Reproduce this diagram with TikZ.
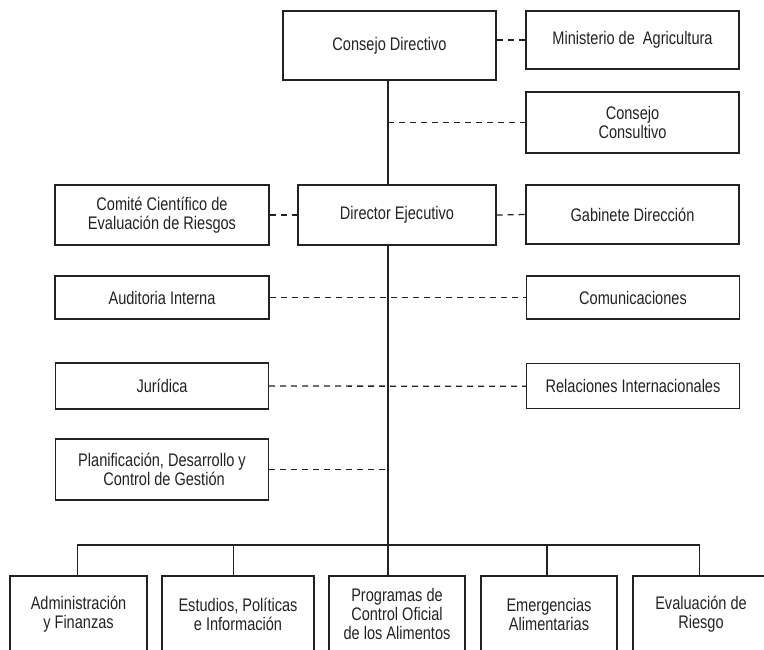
\documentclass[tikz,border=0pt]{standalone}
\usepackage{fontspec}
\setmainfont{Liberation Sans}[FakeStretch=0.8]
\definecolor{ln}{HTML}{222222}
\begin{document}
\begin{tikzpicture}[x=1pt,y=-1pt,
  box/.style={draw=ln, line width=1.3pt, align=center, inner sep=0pt,
    text=ln, font=\fontsize{18.2}{19.5}\selectfont},
  botbox/.style={box, minimum width=136pt, minimum height=76pt,
    font=\fontsize{18.2}{19}\selectfont},
  solidln/.style={draw=ln, line width=1.3pt},
  dashln/.style={draw=ln, line width=1.3pt, dash pattern=on 6pt off 5pt}]
\useasboundingbox (0,0) rectangle (764,649);
\clip (0,0) rectangle (764,649);
% top boxes
\node[box, minimum width=213pt, minimum height=69pt] (cd) at (389.5,45.5) {Consejo Directivo};
\node[box, minimum width=213pt, minimum height=58pt] (min) at (632.5,40) {Ministerio de\ \ Agricultura};
\node[box, minimum width=213pt, minimum height=61pt] (cc) at (632.5,122.5) {Consejo\\Consultivo};
\node[box, minimum width=214pt, minimum height=60pt] (com) at (162,215) {Comité Científico de\\Evaluación de Riesgos};
\node[box, minimum width=198pt, minimum height=60pt] (dir) at (397,215) {Director Ejecutivo};
\node[box, minimum width=213pt, minimum height=59pt] (gab) at (632.5,214.5) {Gabinete Dirección};
\node[box, minimum width=214pt, minimum height=43pt] (aud) at (162,297.5) {Auditoria Interna};
\node[box, minimum width=213pt, minimum height=43pt] (comu) at (633,297.5) {Comunicaciones};
\node[box, minimum width=213pt, minimum height=46pt] (jur) at (162,386) {Jurídica};
\node[box, minimum width=213pt, minimum height=45pt] (rel) at (633,386.3) {Relaciones Internacionales};
\node[box, minimum width=213pt, minimum height=61pt] (plan) at (162,469.5) {Planificación, Desarrollo y\\\ Control de Gestión};
% bottom boxes
\node[botbox, minimum width=137pt] (adm) at (78.5,614) {Administración\\y Finanzas};
\node[botbox, minimum width=152pt] (est) at (238,614) {Estudios, Políticas\\e Información};
\node[botbox] (prog) at (397,614) {Programas de\\Control Oficial\\de los Alimentos};
\node[botbox] (eme) at (549,614) {Emergencias\\Alimentarias};
\node[botbox] (eva) at (701,614) {Evaluación de\\Riesgo};
% spine
\coordinate (sp) at (388,0);
\coordinate (bus) at (388,545);
\draw[solidln] (sp |- cd.south) -- (sp |- dir.north);
\draw[solidln] (sp |- dir.south) -- (bus);
\coordinate (bA) at ([xshift=-0.8pt]adm.north);
\coordinate (bE) at ([xshift=-4.7pt]est.north);
\coordinate (bM) at ([xshift=-2pt]eme.north);
\coordinate (bV) at ([xshift=-1.7pt]eva.north);
\draw[solidln] (bA) |- (bus) -| (bV);
\draw[solidln] (bE) -- (bE |- bus);
\draw[solidln] (bus) -- (bus |- prog.north);
\draw[solidln] (bM) -- (bM |- bus);
% dashed links
\draw[dashln] (cd.east |- min.west) -- (min.west);
\draw[dashln] (sp |- cc.west) -- (cc.west);
\draw[dashln] (com.east) -- (dir.west);
\draw[dashln] (dir.east) -- (gab.west);
\draw[dashln] (aud.east) -- (comu.west);
\draw[dashln] (jur.east) -- (rel.west);
\draw[dashln] (plan.east) -- (sp |- plan.east);
\end{tikzpicture}
\end{document}
